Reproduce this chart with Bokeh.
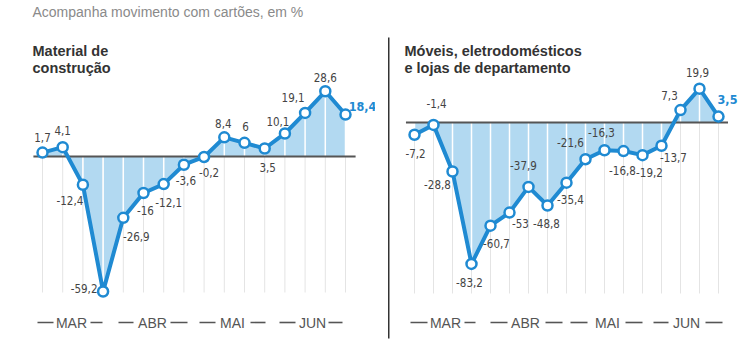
from bokeh.plotting import figure
from bokeh.layouts import row
from bokeh.models import Label, BoxAnnotation, ColumnDataSource, Range1d
from bokeh.core.properties import value
from bokeh.embed import file_html
from bokeh.resources import INLINE

# ---------------- data ----------------
subtitle = "Acompanha movimento com cartões, em %"
month_labels = ["MAR", "ABR", "MAI", "JUN"]

mat_title = ["Material de", "construção"]
mat_values = [1.7, 4.1, -12.4, -59.2, -26.9, -16, -12.1, -3.6, -0.2,
              8.4, 6, 3.5, 10.1, 19.1, 28.6, 18.4]

mov_title = ["Móveis, eletrodomésticos", "e lojas de departamento"]
mov_values = [-7.2, -1.4, -28.8, -83.2, -60.7, -53, -37.9, -48.8, -35.4,
              -21.6, -16.3, -16.8, -19.2, -13.7, 7.3, 19.9, 3.5]

# ---------------- label offsets (pixels) ----------------
mat_dx = [0, 0, -13, -19, 13, 2, 5, 2, 5, -1, 1, 3, -7, -12, 0, 17]
mat_dy = [-15, -17, 16, -3, 19, 18, 18, 16, 16, -14, -16, 19, -12, -15, -14, -8]
mov_dx = [1, 3, -15, -2, 6, 11, -5, -1, 4, -15, -3, -1, 7, 12, -11, -2, 9]
mov_dy = [19, -21, 13, 19, 18, 11, -21, 18, 17, -17, -18, 19, 17, 12, -15, -16, -17]

# month label layout (pixels): text centre, left dash span, right dash span
mat_month_layout = [(71, (37, 53), (90, 102)), (152, (118, 133), (170, 187)),
                    (232, (199, 215), (250, 265)), (312, (279, 295), (328, 342))]
mov_month_layout = [(70, (35, 52), (89, 100)), (150, (115, 132), (170, 187)),
                    (232, (195, 212), (250, 267)), (311, (278, 293), (330, 347))]

BLUE = "#1f8ad2"
FILL = "#b2d9f1"
W, H = 375, 350
LABEL_FONT = value("Liberation Sans Narrow, DejaVu Sans Condensed, sans-serif")
SANS = "Liberation Sans"


def fmt(v):
    return f"{v:g}".replace(".", ",")


def panel(values, title_lines, dx, dy, x0_px, step_px, zero_px, ppu,
          grid_bottom_px, title_x, month_layout, separator=False):
    n = len(values)
    xs = list(range(n))
    xr = Range1d(-x0_px / step_px, (W - x0_px) / step_px)
    yr = Range1d(-(H - zero_px) / ppu, zero_px / ppu)
    p = figure(width=W, height=H, x_range=xr, y_range=yr,
               output_backend="svg", toolbar_location=None,
               min_border=0, outline_line_color=None)
    p.axis.visible = False
    p.grid.visible = False
    p.background_fill_color = "white"
    p.border_fill_color = "white"

    grid_bottom = zero_px / ppu - grid_bottom_px / ppu

    # area fill
    p.varea(x=xs, y1=[0] * n, y2=values, fill_color=FILL, fill_alpha=1)
    # gridlines below zero (gray) and white ones over the fill
    p.segment(x0=xs, y0=[grid_bottom] * n, x1=xs, y1=[0] * n,
              line_color="#e4e4e4", line_width=1)
    p.segment(x0=xs, y0=[0] * n, x1=xs, y1=values,
              line_color="white", line_width=1.5)
    # zero line
    p.line(x=[-0.45, n - 0.5], y=[0, 0], line_color="#555555", line_width=2)
    # series line and markers
    p.line(x=xs, y=values, line_color=BLUE, line_width=4, line_join="round")
    p.scatter(x=xs, y=values, size=10, marker="circle", fill_color="white",
              line_color=BLUE, line_width=2.5)

    # value labels
    src = ColumnDataSource(dict(x=xs[:-1], y=values[:-1],
                                t=[fmt(v) for v in values[:-1]],
                                dx=dx[:-1], dy=dy[:-1]))
    p.text(x="x", y="y", text="t", x_offset="dx", y_offset="dy",
           text_align="center", text_baseline="middle",
           text_font=LABEL_FONT, text_font_size="11.5px",
           text_color="#444444", source=src)
    p.text(x=[xs[-1]], y=[values[-1]], text=[fmt(values[-1])],
           x_offset=dx[-1], y_offset=dy[-1],
           text_align="center", text_baseline="middle",
           text_font=LABEL_FONT, text_font_size="12.5px",
           text_font_style="bold", text_color=BLUE)

    # panel title
    for i, t in enumerate(title_lines):
        p.add_layout(Label(x=title_x, y=H - (50 + 17 * i), x_units="screen",
                           y_units="screen", text=t, text_font=SANS,
                           text_font_size="14.5px", text_font_style="bold",
                           text_color="#333333", text_baseline="middle"))
    # months with dashes
    for (cx, ld, rd), m in zip(month_layout, month_labels):
        p.add_layout(Label(x=cx, y=H - 322, x_units="screen", y_units="screen",
                           text=m, text_font=SANS, text_font_size="14px",
                           text_color="#555555", text_align="center",
                           text_baseline="middle"))
        for a, b in (ld, rd):
            p.add_layout(BoxAnnotation(left=a, right=b, top=H - 321.2,
                                       bottom=H - 322.8, left_units="screen",
                                       right_units="screen", top_units="screen",
                                       bottom_units="screen",
                                       fill_color="#555555", fill_alpha=1,
                                       line_color=None))
    if separator:
        p.add_layout(BoxAnnotation(left=12.5, right=14, top=H - 37,
                                   bottom=H - 338, left_units="screen",
                                   right_units="screen", top_units="screen",
                                   bottom_units="screen", fill_color="#333333",
                                   fill_alpha=1, line_color=None))
    return p


left = panel(mat_values, mat_title, mat_dx, mat_dy, x0_px=42, step_px=20.2,
             zero_px=156, ppu=2.28, grid_bottom_px=292, title_x=32,
             month_layout=mat_month_layout)
left.add_layout(Label(x=32, y=H - 11, x_units="screen", y_units="screen",
                      text=subtitle, text_font=SANS, text_font_size="14px",
                      text_color="#8a8a8a", text_baseline="middle"))

right = panel(mov_values, mov_title, mov_dx, mov_dy, x0_px=39, step_px=19.0,
              zero_px=122, ppu=1.70, grid_bottom_px=293, title_x=29,
              month_layout=mov_month_layout, separator=True)

layout = row(left, right, spacing=0)
open("out.html", "w").write(file_html(layout, INLINE))
